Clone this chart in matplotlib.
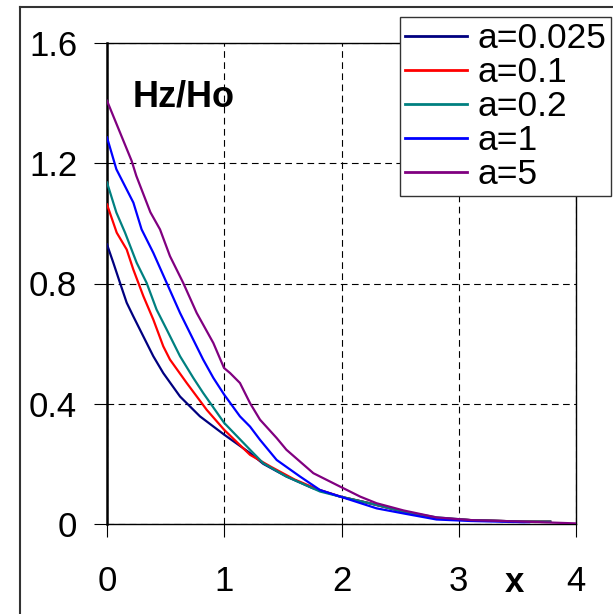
import matplotlib
matplotlib.use("Agg")
import matplotlib.pyplot as plt
from matplotlib.lines import Line2D

plt.rcParams['font.family'] = ['Liberation Sans', 'DejaVu Sans']

# ---- data ----
labels = ["a=0.025", "a=0.1", "a=0.2", "a=1", "a=5"]
colors = ["#000080", "#FF0000", "#008080", "#0000FF", "#800080"]

x_a0025 = [0, 0.054, 0.111, 0.168, 0.224, 0.31, 0.395, 0.48, 0.623, 0.793, 1.0, 1.22, 1.333,
           1.53, 1.75, 1.99, 2.24, 2.53, 2.81, 3.1, 3.55, 3.78]
y_a0025 = [0.93, 0.869, 0.802, 0.736, 0.691, 0.624, 0.558, 0.502, 0.424, 0.358, 0.297, 0.236, 0.2,
           0.158, 0.12, 0.091, 0.069, 0.041, 0.019, 0.013, 0.008, 0.008]

x_a01 = [0, 0.083, 0.168, 0.224, 0.31, 0.395, 0.48, 0.537, 0.68, 0.85, 1.0, 1.22, 1.4, 1.6, 1.8,
         2.0, 2.24, 2.53, 2.81, 3.1, 3.55, 3.78]
y_a01 = [1.063, 0.969, 0.913, 0.847, 0.758, 0.68, 0.591, 0.547, 0.469, 0.38, 0.313, 0.23, 0.19,
         0.148, 0.115, 0.09, 0.069, 0.041, 0.02, 0.013, 0.008, 0.008]

x_a02 = [0, 0.08, 0.154, 0.253, 0.338, 0.423, 0.509, 0.623, 0.736, 0.82, 1.0, 1.22, 1.333, 1.53,
         1.817, 1.99, 2.24, 2.53, 2.81, 3.1, 3.55, 3.78]
y_a02 = [1.136, 1.036, 0.969, 0.869, 0.802, 0.713, 0.647, 0.558, 0.486, 0.436, 0.336, 0.247, 0.202,
         0.158, 0.108, 0.091, 0.069, 0.041, 0.022, 0.013, 0.008, 0.008]

x_a1 = [0, 0.08, 0.225, 0.295, 0.395, 0.509, 0.623, 0.736, 0.82, 0.907, 1.0, 1.134, 1.22, 1.305,
        1.447, 1.646, 1.817, 1.99, 2.3, 2.53, 2.81, 3.1, 3.55, 3.6]
y_a1 = [1.286, 1.18, 1.069, 0.98, 0.902, 0.802, 0.702, 0.613, 0.547, 0.486, 0.43, 0.358, 0.324,
        0.28, 0.213, 0.158, 0.113, 0.091, 0.052, 0.035, 0.015, 0.01, 0.006, 0.006]

x_a5 = [0, 0.21, 0.25, 0.37, 0.452, 0.537, 0.65, 0.765, 0.907, 0.998, 1.05, 1.134, 1.22, 1.305,
        1.447, 1.53, 1.76, 1.99, 2.16, 2.3, 2.53, 2.81, 3.1, 3.55, 4.0]
y_a5 = [1.408, 1.208, 1.158, 1.037, 0.98, 0.891, 0.802, 0.702, 0.602, 0.519, 0.502, 0.469, 0.402,
        0.347, 0.286, 0.247, 0.169, 0.124, 0.091, 0.069, 0.045, 0.022, 0.013, 0.008, 0.002]

xs = [x_a0025, x_a01, x_a02, x_a1, x_a5]
ys = [y_a0025, y_a01, y_a02, y_a1, y_a5]

x_ticks = [0, 1, 2, 3, 4]
y_ticks = [0, 0.4, 0.8, 1.2, 1.6]
y_tick_labels = ["0", "0.4", "0.8", "1.2", "1.6"]

# ---- figure ----
W, H = 613, 614
fig = plt.figure(figsize=(W / 100, H / 100), dpi=100)
ax = fig.add_axes([107 / W, 1 - 524 / H, (576 - 107) / W, (524 - 43) / H])

for x, y, c, lab in zip(xs, ys, colors, labels):
    ax.plot(x, y, color=c, lw=1.6, label=lab, zorder=3)

ax.set_xlim(0, 4)
ax.set_ylim(0, 1.6)
ax.set_xticks(x_ticks)
ax.set_xticklabels([str(t) for t in x_ticks])
ax.set_yticks(y_ticks)
ax.set_yticklabels(y_tick_labels)
ax.tick_params(axis='both', direction='out', length=9.5, width=0.8, color='black', labelsize=25)
ax.tick_params(axis='x', pad=20)
ax.tick_params(axis='y', pad=12)

ax.grid(True, color='black', linestyle=(0, (6, 4)), linewidth=0.8)
for s in ['top', 'right', 'bottom']:
    ax.spines[s].set_linewidth(1.0)
    ax.spines[s].set_color('black')
ax.spines['left'].set_linewidth(1.8)

ax.text(0.22, 1.39, "Hz/Ho", fontsize=26, fontweight='bold', ha='left', va='baseline')
fig.text(514 / W, 1 - 592 / H, "x", fontsize=25, fontweight='bold', ha='center', va='baseline')

leg = fig.legend(loc='upper left', bbox_to_anchor=(400 / W, 1 - 17 / H),
                 bbox_transform=fig.transFigure, fontsize=25.5, frameon=True, fancybox=False,
                 edgecolor='#333333', framealpha=1, borderpad=0.14, labelspacing=0.03,
                 handlelength=1.75, handletextpad=0.3, borderaxespad=0)
leg.get_frame().set_linewidth(1.0)
for l in leg.get_lines():
    l.set_linewidth(2.0)

# outer chart frame
fig.add_artist(Line2D([20 / W, 20 / W], [0, 1 - 7 / H], transform=fig.transFigure,
                      color='#333333', lw=1.5))
fig.add_artist(Line2D([20 / W, 1], [1 - 7 / H, 1 - 7 / H], transform=fig.transFigure,
                      color='#333333', lw=1.5))

fig.savefig("out.png", dpi=100)
